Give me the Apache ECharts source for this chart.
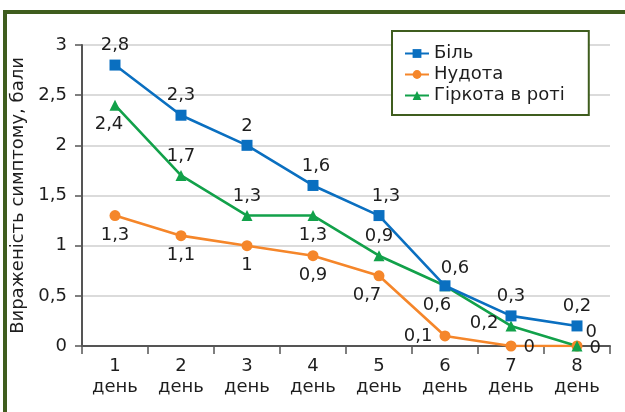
<!DOCTYPE html>
<html>
<head>
<meta charset="utf-8">
<script src="https://cdn.jsdelivr.net/npm/echarts@6/dist/echarts.min.js"></script>
<style>
  html, body { margin: 0; padding: 0; background: #fff; }
  #chart { width: 625px; height: 412px; }
</style>
</head>
<body>
<div id="chart"></div>
<script>
var days = ['1', '2', '3', '4', '5', '6', '7', '8'];
var pain = [2.8, 2.3, 2.0, 1.6, 1.3, 0.6, 0.3, 0.2];
var nausea = [1.3, 1.1, 1.0, 0.9, 0.7, 0.1, 0, 0];
var bitter = [2.4, 1.7, 1.3, 1.3, 0.9, 0.6, 0.2, 0];
var yTicks = [0, 0.5, 1, 1.5, 2, 2.5, 3];

// where each point's number sits
var painPos = [['top', [0, 0]], ['top', [0, 0]], ['top', [0, 0]], ['top', [3, 0]], ['top', [7, 0]], ['top', [10, 2]], ['top', [0, 0]], ['top', [0, 0]]];
var nauseaPos = [['bottom', [0, 0]], ['bottom', [0, 0]], ['bottom', [0, 0]], ['bottom', [0, 0]], ['bottom', [-12, 0]], ['left', [-2, 0]], ['right', [2, 1]], ['right', [2, 2]]];
var bitterPos = [['bottom', [-6, 0]], ['top', [0, 0]], ['top', [0, 0]], ['bottom', [0, 0]], ['top', [0, 0]], ['bottom', [-8, 0]], ['left', [-2, -3]], ['right', [-2, -14]]];

var font = 'DejaVu Sans';
var ink = '#1e1e1e';

function comma(v) { return String(v).replace('.', ','); }

function withLabels(values, pos) {
  return values.map(function (v, i) {
    return { value: v, label: { position: pos[i][0], offset: pos[i][1] } };
  });
}

function lineSeries(name, values, pos, color, symbol, size) {
  return {
    name: name,
    type: 'line',
    data: withLabels(values, pos),
    symbol: symbol,
    symbolSize: size,
    lineStyle: { color: color, width: 2.6 },
    itemStyle: { color: color },
    label: {
      show: true,
      fontFamily: font,
      fontSize: 18,
      color: ink,
      distance: 5,
      formatter: function (p) { return comma(p.value); }
    },
    emphasis: { disabled: true },
    z: symbol === 'rect' ? 3 : 2
  };
}

var chart = echarts.init(document.getElementById('chart'));
chart.setOption({
  animation: false,
  backgroundColor: '#fff',
  graphic: [{
    type: 'rect',
    shape: { x: 5, y: 12, width: 660, height: 440 },
    style: { fill: 'none', stroke: '#3f5d1e', lineWidth: 4 },
    silent: true
  }],
  grid: { left: 82, top: 45, right: 15, bottom: 66 },
  legend: {
    orient: 'vertical',
    left: 392,
    top: 31,
    padding: [12, 24, 9, 12],
    itemGap: 0,
    itemWidth: 24,
    itemHeight: 11,
    itemTextGap: 10,
    borderColor: '#3f5d1e',
    borderWidth: 2,
    backgroundColor: '#fff',
    textStyle: { fontFamily: font, fontSize: 18, color: ink, lineHeight: 21 },
    data: ['Біль', 'Нудота', 'Гіркота в роті']
  },
  xAxis: {
    type: 'category',
    data: days,
    boundaryGap: true,
    axisLine: { lineStyle: { color: '#555', width: 2 } },
    axisTick: { show: true, length: 8, alignWithLabel: false, lineStyle: { color: '#555', width: 1.5 } },
    axisLabel: {
      margin: 10,
      fontFamily: font,
      fontSize: 18,
      color: ink,
      lineHeight: 21,
      formatter: function (v) { return v + '\nдень'; }
    }
  },
  yAxis: {
    type: 'value',
    min: yTicks[0],
    max: yTicks[yTicks.length - 1],
    interval: 0.5,
    name: 'Вираженість симптому, бали',
    nameLocation: 'middle',
    nameGap: 49,
    nameTextStyle: { fontFamily: font, fontSize: 18, color: ink },
    axisLine: { show: true, lineStyle: { color: '#555', width: 2 } },
    axisTick: { show: true, length: 7, lineStyle: { color: '#555', width: 1.5 } },
    axisLabel: {
      margin: 15,
      fontFamily: font,
      fontSize: 18,
      color: ink,
      formatter: function (v) { return comma(v); }
    },
    splitLine: { lineStyle: { color: '#cfcfcf', width: 1.5 } }
  },
  series: [
    lineSeries('Біль', pain, painPos, '#0a6fc0', 'rect', 11),
    lineSeries('Нудота', nausea, nauseaPos, '#f5862a', 'circle', 11),
    lineSeries('Гіркота в роті', bitter, bitterPos, '#12a14a', 'triangle', 11)
  ]
});
</script>
</body>
</html>
